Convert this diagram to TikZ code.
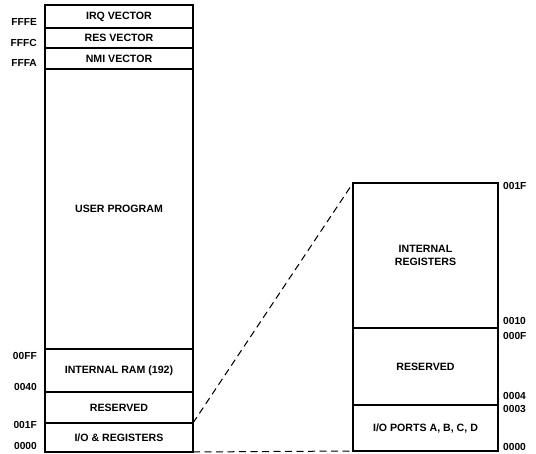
\documentclass[tikz,border=0pt]{standalone}
\usepackage{fontspec}
\setmainfont{Liberation Sans}
\begin{document}
\begin{tikzpicture}[x=1pt,y=-1pt,
  region/.style={draw, line width=1.3pt, inner sep=0pt, outer sep=0pt, anchor=north west, font=\bfseries\fontsize{10.6}{12.5}\selectfont, align=center},
  addr/.style={inner sep=0pt, font=\bfseries\fontsize{10.2}{12}\selectfont},
  zoomline/.style={line width=1pt, dash pattern=on 7pt off 4.5pt}]
\useasboundingbox (0,0) rectangle (536,454);
% left memory map
\node[region, minimum width=148pt, minimum height=23pt] (irq) at (45,5) {IRQ VECTOR};
\node[region, minimum width=148pt, minimum height=20pt] (res) at (irq.south west) {RES VECTOR};
\node[region, minimum width=148pt, minimum height=21pt] (nmi) at (res.south west) {NMI VECTOR};
\node[region, minimum width=148pt, minimum height=280pt] (user) at (nmi.south west) {USER PROGRAM};
\node[region, minimum width=148pt, minimum height=43pt] (ram) at (user.south west) {INTERNAL RAM (192)};
\node[region, minimum width=148pt, minimum height=31pt] (rsv) at (ram.south west) {RESERVED};
\node[region, minimum width=148pt, minimum height=29pt] (io) at (rsv.south west) {I/O \& REGISTERS};
% right expanded map
\node[region, minimum width=145pt, minimum height=145pt] (ireg) at (353,183) {INTERNAL\\REGISTERS};
\node[region, minimum width=145pt, minimum height=77pt] (rrsv) at (ireg.south west) {RESERVED};
\node[region, minimum width=145pt, minimum height=46pt] (ports) at (rrsv.south west) {I/O PORTS A, B, C, D};
% left addresses
\node[addr, anchor=east] (aFFFE) at (37,22) {FFFE};
\node[addr, anchor=east] (aFFFC) at (37,43) {FFFC};
\node[addr, anchor=east] (aFFFA) at (37,63) {FFFA};
\node[addr, anchor=east] (a00FF) at (37,356) {00FF};
\node[addr, anchor=east] (a0040) at (37,387) {0040};
\node[addr, anchor=east] (a001F) at (37,425) {001F};
\node[addr, anchor=east] (a0000) at (37,446) {0000};
% right addresses
\node[addr, anchor=west] (b001F) at (503,186) {001F};
\node[addr, anchor=west] (b0010) at (503,321) {0010};
\node[addr, anchor=west] (b000F) at (503,336) {000F};
\node[addr, anchor=west] (b0004) at (503,396) {0004};
\node[addr, anchor=west] (b0003) at (503,409) {0003};
\node[addr, anchor=west] (b0000) at (503,447) {0000};
% zoom lines
\draw[zoomline] (io.north east) -- (ireg.north west);
\draw[zoomline] (io.south east) -- (ports.south west);
\end{tikzpicture}
\end{document}
